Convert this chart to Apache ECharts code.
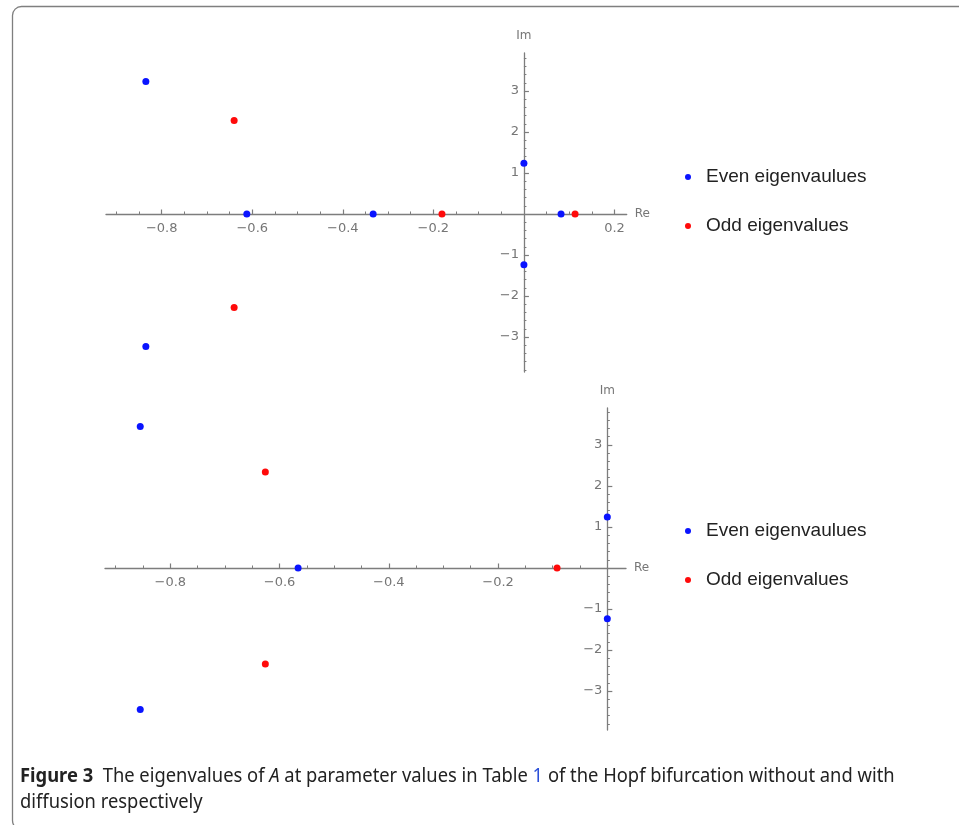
<!DOCTYPE html>
<html><head><meta charset="utf-8">
<script src="https://cdn.jsdelivr.net/npm/echarts@6/dist/echarts.min.js"></script>
<style>html,body{margin:0;padding:0;background:#fff}#c{width:959px;height:825px}</style>
</head><body><div id="c"></div>
<script>
// ---- data ----
const seriesNames = ['Even eigenvaulues', 'Odd eigenvalues'];
// top panel: without diffusion  [Re, Im]
const topEven = [[-0.835, 3.23], [-0.835, -3.23], [-0.612, 0], [-0.333, 0], [0, 1.24], [0, -1.24], [0.082, 0]];
const topOdd  = [[-0.640, 2.28], [-0.640, -2.28], [-0.181, 0], [0.113, 0]];
// bottom panel: with diffusion
const botEven = [[-0.855, 3.45], [-0.855, -3.45], [-0.566, 0], [0, 1.24], [0, -1.24]];
const botOdd  = [[-0.626, 2.34], [-0.626, -2.34], [-0.092, 0]];
// tick values
const xMajorTicks = [-0.8, -0.6, -0.4, -0.2, 0.2];
const yMajorTicks = [-3, -2, -1, 1, 2, 3];
const xMinorStep = 0.05, yMinorStep = 0.2;
// axis extents
const topXRange = [-0.923, 0.227];
const topYRange = [-3.854, 3.927];
const botXRange = [-0.9195, 0.0342];
const botYRange = [-3.95, 3.90];
const captionText = ['Figure 3', 'The eigenvalues of ', 'A', ' at parameter values in Table ', '1', ' of the Hopf bifurcation without and with', 'diffusion respectively'];

// ---- layout ----
const grids = [
  { left: 106, top: 53, width: 520.7, height: 319 },
  { left: 105, top: 408, width: 521, height: 322 }
];

// ---- helpers ----
function inRange(list, r) { return list.filter(v => v >= r[0] && v <= r[1]); }
function minorTicks(step, r, majorEvery) {
  const out = [];
  const k0 = Math.ceil(r[0] / step - 1e-9), k1 = Math.floor(r[1] / step + 1e-9);
  for (let k = k0; k <= k1; k++) {
    if (k % majorEvery === 0) continue;
    out.push(+(k * step).toFixed(4));
  }
  return out;
}
const AX = '#7d7d7d';
const LBL = { color: '#767676', fontSize: 13, fontFamily: 'DejaVu Sans' };
const fmt = v => (v === 0 ? '' : String(+v.toFixed(2)).replace('-', '\u2212'));

// major axes are shifted to the other axis' zero so that line, ticks and labels sit there
function xMajor(gi, xr, yr) {
  const g = grids[gi];
  return {
    type: 'value', gridIndex: gi, min: xr[0], max: xr[1], position: 'bottom',
    offset: -g.height * (0 - yr[0]) / (yr[1] - yr[0]),
    name: 'Re', nameLocation: 'end', nameGap: 8, nameTextStyle: Object.assign({}, LBL, { fontSize: 12 }),
    axisLine: { show: true, onZero: false, lineStyle: { color: AX, width: 1.3 } },
    axisTick: { show: true, inside: true, length: 4.5, customValues: inRange(xMajorTicks, xr), lineStyle: { color: AX, width: 1.2 } },
    axisLabel: { show: true, margin: 8, customValues: inRange(xMajorTicks, xr), formatter: fmt, ...LBL },
    splitLine: { show: false }
  };
}
function xMinor(gi, xr, zeroIdx) {
  return {
    type: 'value', gridIndex: gi, min: xr[0], max: xr[1], position: 'top',
    axisLine: { show: false, onZero: true, onZeroAxisIndex: zeroIdx },
    axisTick: { show: true, inside: false, length: 2.5, customValues: minorTicks(xMinorStep, xr, 4), lineStyle: { color: AX, width: 1 } },
    axisLabel: { show: false }, splitLine: { show: false }
  };
}
function yMajor(gi, yr, xr) {
  const g = grids[gi];
  return {
    type: 'value', gridIndex: gi, min: yr[0], max: yr[1], position: 'left',
    offset: -g.width * (0 - xr[0]) / (xr[1] - xr[0]),
    name: 'Im', nameLocation: 'end', nameGap: 11, nameTextStyle: Object.assign({}, LBL, { fontSize: 12 }),
    axisLine: { show: true, onZero: false, lineStyle: { color: AX, width: 1.3 } },
    axisTick: { show: true, inside: true, length: 5, customValues: inRange(yMajorTicks, yr), lineStyle: { color: AX, width: 1.2 } },
    axisLabel: { show: true, margin: 5, customValues: inRange(yMajorTicks, yr), formatter: fmt, ...LBL },
    splitLine: { show: false }
  };
}
function yMinor(gi, yr, zeroIdx) {
  return {
    type: 'value', gridIndex: gi, min: yr[0], max: yr[1], position: 'right',
    axisLine: { show: false, onZero: true, onZeroAxisIndex: zeroIdx },
    axisTick: { show: true, inside: false, length: 2.5, customValues: minorTicks(yMinorStep, yr, 5), lineStyle: { color: AX, width: 1 } },
    axisLabel: { show: false }, splitLine: { show: false }
  };
}
function scatter(name, data, xi, yi, color) {
  return { type: 'scatter', name, data, xAxisIndex: xi, yAxisIndex: yi, symbol: 'circle', symbolSize: 7,
    itemStyle: { color, opacity: 1 }, emphasis: { disabled: true }, z: 5 };
}
function legend(top) {
  return {
    data: seriesNames, orient: 'vertical', left: 680, top, itemWidth: 26, itemHeight: 6, itemGap: 29,
    icon: 'circle', selectedMode: false,
    textStyle: { fontSize: 19, fontFamily: 'Liberation Sans', color: '#222', lineHeight: 20 }
  };
}

const chart = echarts.init(document.getElementById('c'), null, { renderer: 'canvas' });
const capFont = { fontFamily: 'Noto Sans', fontSize: 19, fill: '#222', lineHeight: 26 };
chart.setOption({
  animation: false,
  backgroundColor: '#fff',
  grid: grids,
  xAxis: [xMajor(0, topXRange, topYRange), xMinor(0, topXRange, 0), xMajor(1, botXRange, botYRange), xMinor(1, botXRange, 2)],
  yAxis: [yMajor(0, topYRange, topXRange), yMinor(0, topYRange, 0), yMajor(1, botYRange, botXRange), yMinor(1, botYRange, 2)],
  legend: [legend(162), legend(516)],
  series: [
    scatter(seriesNames[0], topEven, 0, 0, '#0a14ff'),
    scatter(seriesNames[1], topOdd, 0, 0, '#ff0a0a'),
    scatter(seriesNames[0], botEven, 2, 2, '#0a14ff'),
    scatter(seriesNames[1], botOdd, 2, 2, '#ff0a0a')
  ],
  graphic: [
    { type: 'rect', silent: true, shape: { x: 12.5, y: 6.5, width: 1000, height: 823, r: 9 },
      style: { fill: 'none', stroke: '#7f7f7f', lineWidth: 1.3 } },
    { type: 'text', silent: true, x: 20, y: 764, scaleX: 0.966,
      style: Object.assign({}, capFont, {
        text: '{b|' + captionText[0] + '}  {n|' + captionText[1] + '}{i|' + captionText[2] + '}{n|' + captionText[3] + '}{l|' + captionText[4] + '}{n|' + captionText[5] + '}\n{n|' + captionText[6] + '}',
        rich: {
          b: Object.assign({}, capFont, { fontWeight: 'bold' }),
          n: Object.assign({}, capFont),
          i: Object.assign({}, capFont, { fontStyle: 'italic' }),
          l: Object.assign({}, capFont, { fill: '#2b4fd8' })
        }
      }) }
  ]
});
</script></body></html>
